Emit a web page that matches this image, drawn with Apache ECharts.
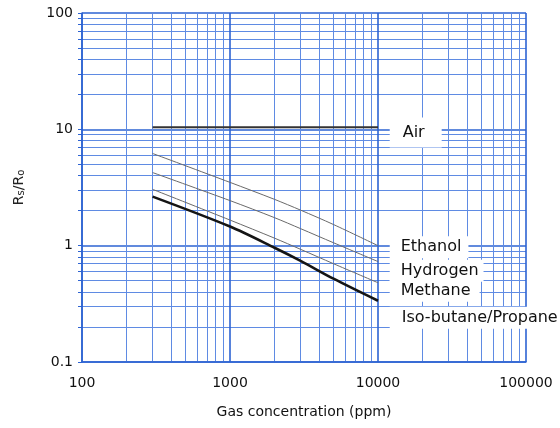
<!DOCTYPE html>
<html>
<head>
<meta charset="utf-8">
<script src="https://cdn.jsdelivr.net/npm/echarts@6/dist/echarts.min.js"></script>
<style>
html,body{margin:0;padding:0;background:#fff;}
#chart{width:560px;height:428px;}
</style>
</head>
<body>
<div id="chart"></div>
<script>
// Gas concentration (ppm) sample points
var conc = [300, 1000, 2000, 3000, 5000, 10000];
// Rs/Ro values per gas
var air      = [10.4, 10.4, 10.4, 10.4, 10.4, 10.4];
var ethanol  = [6.2, 3.5, 2.5, 2.02, 1.52, 1.0];
var hydrogen = [4.25, 2.44, 1.74, 1.40, 1.06, 0.73];
var methane  = [3.05, 1.66, 1.16, 0.93, 0.70, 0.48];
var isoButane = [2.64, 1.46, 0.96, 0.74, 0.52, 0.336];
// Curve labels and where they sit (data coordinates)
var labelNames = ['Air', 'Ethanol', 'Hydrogen', 'Methane', 'Iso-butane/Propane'];
var labelX = [12000, 12000, 12000, 12000, 12000];
var labelY = [9.4, 0.97, 0.61, 0.41, 0.24];

var labelStyles = {
  'Air': {padding: [7, 17, 7, 13]},
  'Ethanol': {padding: [3, 7, 3, 11]},
  'Hydrogen': {padding: [3, 5, 3, 11]},
  'Methane': {padding: [3, 9, 3, 11]},
  'Iso-butane/Propane': {padding: [3, 4, 3, 12]}
};

function pairs(ys) { return conc.map(function (x, i) { return [x, ys[i]]; }); }

var major = '#2d63d2';
var minor = '#5f8be3';
var txt = '#111';
var font = 'DejaVu Sans';

var chart = echarts.init(document.getElementById('chart'), null, {renderer: 'canvas'});
chart.setOption({
  backgroundColor: '#fff',
  animation: false,
  grid: {left: 82, top: 13, right: 34, bottom: 66, containLabel: false},
  xAxis: {
    type: 'log', logBase: 10, min: 100, max: 100000,
    name: 'Gas concentration (ppm)', nameLocation: 'middle', nameGap: 43,
    nameTextStyle: {fontFamily: font, fontSize: 14, color: txt},
    axisLine: {lineStyle: {color: major, width: 1.5}},
    axisTick: {show: false},
    axisLabel: {fontFamily: font, fontSize: 14, color: txt, margin: 14,
      formatter: function (v) { return String(Math.round(v)); }},
    splitLine: {show: true, lineStyle: {color: major, width: 1.6}},
    minorTick: {show: false, splitNumber: 9},
    minorSplitLine: {show: true, lineStyle: {color: minor, width: 1}}
  },
  yAxis: {
    type: 'log', logBase: 10, min: 0.1, max: 100,
    name: '{n|R}{s|s}{n|/R}{s|o}', nameLocation: 'middle', nameGap: 56,
    nameTextStyle: {
      fontFamily: font, color: '#222',
      rich: {
        n: {fontFamily: font, fontSize: 14, color: '#222'},
        s: {fontFamily: font, fontSize: 10, color: '#222', verticalAlign: 'bottom', padding: [4, 0, 0, 0]}
      }
    },
    axisLine: {lineStyle: {color: major, width: 1.5}},
    axisTick: {show: true, length: 4, lineStyle: {color: major}},
    minorTick: {show: true, splitNumber: 9, length: 4, lineStyle: {color: major}},
    axisLabel: {fontFamily: font, fontSize: 14, color: txt, margin: 9},
    splitLine: {show: true, lineStyle: {color: major, width: 1.6}},
    minorSplitLine: {show: true, lineStyle: {color: minor, width: 1}}
  },
  series: [
    {name: 'Air', type: 'line', data: pairs(air), symbol: 'none', z: 3,
     lineStyle: {color: '#333', width: 2}},
    {name: 'Ethanol', type: 'line', data: pairs(ethanol), symbol: 'none', z: 3, smooth: 0.3,
     lineStyle: {color: '#6a6a6a', width: 1}},
    {name: 'Hydrogen', type: 'line', data: pairs(hydrogen), symbol: 'none', z: 3, smooth: 0.3,
     lineStyle: {color: '#6a6a6a', width: 1}},
    {name: 'Methane', type: 'line', data: pairs(methane), symbol: 'none', z: 3, smooth: 0.3,
     lineStyle: {color: '#6a6a6a', width: 1}},
    {name: 'Iso-butane/Propane', type: 'line', data: pairs(isoButane), symbol: 'none', z: 3, smooth: 0.3,
     lineStyle: {color: '#151515', width: 2.6}},
    {
      name: 'labels', type: 'scatter', z: 10, silent: true,
      symbolSize: 0,
      itemStyle: {opacity: 1},
      data: labelNames.map(function (n, i) {
        return {
          value: [labelX[i], labelY[i]],
          name: n,
          label: {
            show: true, position: 'right', distance: 0,
            formatter: n, opacity: 1,
            fontFamily: font, fontSize: 16, color: txt,
            backgroundColor: '#fff',
            padding: labelStyles[n].padding
          }
        };
      })
    }
  ]
});
</script>
</body>
</html>
